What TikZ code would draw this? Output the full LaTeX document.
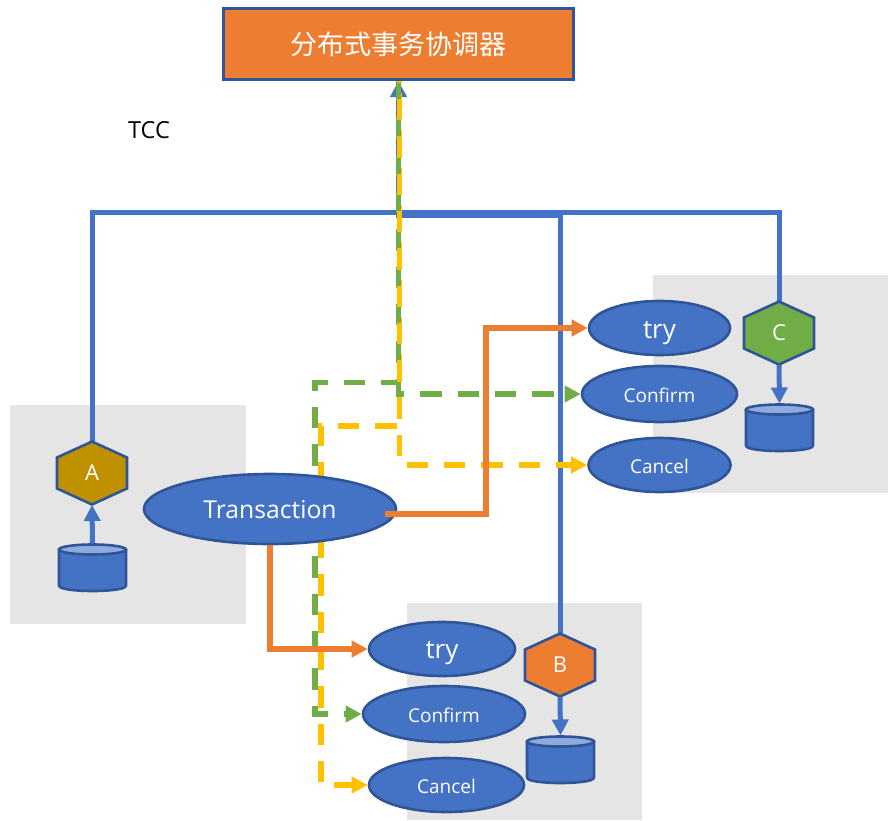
\documentclass[tikz,border=0pt]{standalone}
\usepackage{fontspec}
\setmainfont{Open Sans}
\newfontfamily\cjkfont{Noto Sans CJK SC}
\usetikzlibrary{shapes.geometric,arrows.meta}
\definecolor{mso blue}{HTML}{4472C4}
\definecolor{mso edge}{HTML}{2F5597}
\definecolor{mso orange}{HTML}{ED7D31}
\definecolor{mso green}{HTML}{70AD47}
\definecolor{mso yellow}{HTML}{FFC000}
\definecolor{mso gold}{HTML}{BF9000}
\definecolor{mso grey}{HTML}{E5E5E5}
\definecolor{mso light}{HTML}{8FAADC}
\newcommand{\lowered}[2]{\raisebox{-#1pt}[0pt][0pt]{#2}}
\tikzset{
  x=1pt,y=-1pt,
  panel/.style={fill=mso grey,draw=none},
  opnode/.style={ellipse,draw=mso edge,fill=mso blue,line width=2.6pt,inner sep=0pt,text=white},
  hexa/.style={draw=mso edge,line width=2.6pt,line join=miter},
  hexlabel/.style={circle,minimum size=64pt,inner sep=0pt,outer sep=0pt,text=white,font=\fontsize{22}{24}\selectfont},
  storeanchor/.style={rectangle,minimum width=69pt,minimum height=48pt,inner sep=0pt,outer sep=0pt},
  storebody/.style={draw=mso edge,fill=mso blue,line width=2.6pt,line join=round},
  storetop/.style={draw=mso edge,fill=mso light,line width=2.6pt},
  tip/.style={-{Triangle[length=16pt,width=16pt]}},
  blueline/.style={draw=mso blue,line width=5pt},
  orangeline/.style={draw=mso orange,line width=5.2pt,tip},
  greenline/.style={draw=mso green,line width=5.4pt,tip,dash pattern=on 21.33pt off 16pt},
  yellowline/.style={draw=mso yellow,line width=5.4pt,tip,dash pattern=on 21.33pt off 16pt},
  trytext/.style={font=\fontsize{26}{28}\selectfont},
  smalltext/.style={font=\fontsize{19}{22}\selectfont},
}
\begin{document}
\begin{tikzpicture}
\useasboundingbox (0,0) rectangle (889,820);
% panels
\fill[panel] (10,405) rectangle (246,624);
\fill[panel] (407,603) rectangle (642,820);
\fill[panel] (653,275) rectangle (888,493);

% coordinator
\node[rectangle,draw=mso edge,fill=mso orange,line width=2.6pt,minimum width=350.4pt,minimum height=71.4pt,inner sep=0pt,text=white,font=\cjkfont\fontsize{27}{30}\selectfont] (coord) at (398.5,44) {分布式事务协调器};
\node[font=\fontsize{23.5}{26}\selectfont,text=black] (tcc) at (149,130) {TCC};

% hexagon labels (anchors)
\node[hexlabel] (A) at (92,473) {};
\node[hexlabel] (B) at (560,665) {};
\node[hexlabel] (C) at (779,333) {};

% operation nodes
\node[opnode,trytext,minimum width=141pt,minimum height=54pt] (tryC) at (659.5,328) {\lowered{10}{try}};
\node[opnode,smalltext,minimum width=155pt,minimum height=56pt] (cfC) at (659.5,394) {\lowered{8}{Confirm}};
\node[opnode,smalltext,minimum width=142pt,minimum height=54pt] (ccC) at (659.5,465) {\lowered{8}{Cancel}};
\node[opnode,trytext,minimum width=146pt,minimum height=54pt] (tryB) at (442,649) {\lowered{9.5}{try}};
\node[opnode,smalltext,minimum width=162pt,minimum height=56pt] (cfB) at (444,714) {\lowered{8}{Confirm}};
\node[opnode,smalltext,minimum width=155pt,minimum height=54pt] (ccB) at (446.5,785) {\lowered{8}{Cancel}};

% bend points
\coordinate (busA) at (92,212.5);
\coordinate (busB) at (560,215);
\coordinate (busC) at (779,212.5);
\coordinate (hubA) at (398.5,212.5);
\coordinate (hubB) at (398.5,215);
\coordinate (gA) at (315,382.5);
\coordinate (yA) at (321,426);
\coordinate (yHub) at (399.5,81);
\coordinate (orBend) at (486,514);
\coordinate (txOut) at (385,514);

% blue bus
\draw[blueline] (A.north) -- (busA) -- (hubA);
\draw[blueline] (C.north) -- (busC) -- (hubA);
\draw[blueline,tip] (B.north) -- (busB) -- (hubB) -- (coord.south);

% dashed lines
\draw[yellowline,dash phase=25.3pt] (yHub) |- (yA) |- (ccB.west);
\draw[greenline,dash phase=1pt] (coord.south) |- (gA) |- (cfB.west);
\draw[greenline,dash phase=1pt] (coord.south) |- (cfC.west);
\draw[yellowline,dash phase=19.33pt] (yHub) |- (ccC.west);

% hexagons
\filldraw[hexa,fill=mso gold] (92,441.5)--(127,457.5)--(127,488.5)--(92,504.5)--(57,488.5)--(57,457.5)--cycle;
\filldraw[hexa,fill=mso orange] (560,633.5)--(595,649.5)--(595,680.5)--(560,696.5)--(525,680.5)--(525,649.5)--cycle;
\filldraw[hexa,fill=mso green] (779,301.5)--(814,317.5)--(814,348.5)--(779,364.5)--(744,348.5)--(744,317.5)--cycle;
\node[hexlabel] at (A) {A};
\node[hexlabel] at (B) {B};
\node[hexlabel] at (C) {C};

% transaction
\node[opnode,minimum width=252pt,minimum height=70pt,font=\fontsize{24.7}{28}\selectfont] (tx) at (270,509) {\lowered{9.5}{Transaction}};

% stores
\foreach \nm/\cx/\ty in {dbA/92.5/544.5,dbB/560.5/736.5,dbC/779.5/404.5}{
  \filldraw[storebody] (\cx-33.5,\ty+5) -- (\cx-33.5,\ty+41) .. controls (\cx-33.5,\ty+45) and (\cx-15,\ty+46.5) .. (\cx,\ty+46.5) .. controls (\cx+15,\ty+46.5) and (\cx+33.5,\ty+45) .. (\cx+33.5,\ty+41) -- (\cx+33.5,\ty+5) -- cycle;
  \filldraw[storetop] (\cx,\ty+5) ellipse [x radius=33.5,y radius=5];
}
\node[storeanchor] (dbA) at (92.5,567.5) {};
\node[storeanchor] (dbB) at (560.5,759.5) {};
\node[storeanchor] (dbC) at (779.5,427.5) {};
\draw[blueline,tip] (dbA.north) -- (A.south);
\draw[blueline,tip] (B.south) -- (dbB.north);
\draw[blueline,tip] (C.south) -- (dbC.north);

% orange
\draw[orangeline] (tx.south) |- (tryB.west);
\draw[orangeline] (txOut) -| (orBend) |- (tryC.west);
\end{tikzpicture}
\end{document}
